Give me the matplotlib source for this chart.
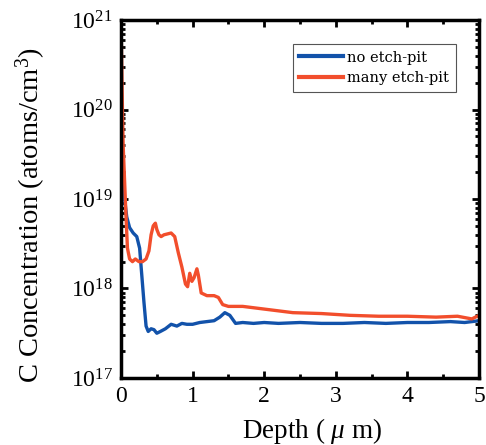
import matplotlib
matplotlib.use("Agg")
import matplotlib.pyplot as plt
import numpy as np
from matplotlib.ticker import LogLocator, MultipleLocator, FixedLocator, NullFormatter

# Data (depth in um, log10 of concentration)
blue_depth = [0, 0.02, 0.05, 0.08, 0.12, 0.17, 0.22, 0.26, 0.29, 0.32, 0.35, 0.38, 0.42, 0.46, 0.5,
              0.55, 0.62, 0.7, 0.78, 0.85, 0.92, 1.0, 1.1, 1.2, 1.3, 1.38, 1.45, 1.52, 1.6, 1.7, 1.85,
              2.0, 2.2, 2.5, 2.8, 3.1, 3.4, 3.7, 4.0, 4.3, 4.6, 4.8, 5.0]
blue_log = [19.36, 19.2, 19.0, 18.8, 18.68, 18.62, 18.58, 18.45, 18.15, 17.85, 17.58, 17.52, 17.55,
            17.54, 17.5, 17.52, 17.55, 17.6, 17.58, 17.61, 17.6, 17.6, 17.62, 17.63, 17.64, 17.68,
            17.73, 17.7, 17.61, 17.62, 17.61, 17.62, 17.61, 17.62, 17.61, 17.61, 17.62, 17.61,
            17.62, 17.62, 17.63, 17.62, 17.64]

red_depth = [0, 0.01, 0.02, 0.03, 0.05, 0.07, 0.09, 0.12, 0.16, 0.2, 0.25, 0.3, 0.35, 0.39, 0.42,
             0.45, 0.48, 0.5, 0.53, 0.56, 0.6, 0.65, 0.7, 0.75, 0.8, 0.85, 0.9, 0.93, 0.96, 0.99,
             1.02, 1.06, 1.08, 1.12, 1.2, 1.3, 1.36, 1.42, 1.5, 1.7, 1.9, 2.1, 2.4, 2.8, 3.2, 3.6,
             4.0, 4.4, 4.7, 4.9, 5.0]
red_log = [21.0, 20.5, 20.0, 19.6, 19.2, 18.8, 18.45, 18.33, 18.3, 18.33, 18.3, 18.3, 18.33, 18.42,
           18.6, 18.7, 18.73, 18.66, 18.6, 18.58, 18.6, 18.61, 18.62, 18.58, 18.4, 18.24, 18.05,
           18.02, 18.17, 18.08, 18.12, 18.22, 18.15, 17.95, 17.92, 17.92, 17.9, 17.82, 17.8, 17.8,
           17.78, 17.76, 17.73, 17.72, 17.7, 17.69, 17.69, 17.68, 17.69, 17.66, 17.7]

series_labels = ["no etch-pit", "many etch-pit"]
x_ticks = [0, 1, 2, 3, 4, 5]

plt.rcParams['font.family'] = ['Liberation Serif', 'DejaVu Serif']
plt.rcParams['mathtext.fontset'] = 'custom'
plt.rcParams['mathtext.rm'] = 'Liberation Serif'
plt.rcParams['mathtext.it'] = 'Liberation Serif:italic'

fig = plt.figure(figsize=(4.86, 4.45), dpi=100)
ax = fig.add_axes([0.249, 0.1506, 0.7366, 0.8044])

blue_c = '#1252AA'
red_c = '#F24E2C'
ax.plot(blue_depth, 10 ** np.array(blue_log), color=blue_c, lw=2.4, label=series_labels[0])
ax.plot(red_depth, 10 ** np.array(red_log), color=red_c, lw=2.4, label=series_labels[1])

ax.set_yscale('log')
ax.set_xlim(0, 5)
ax.set_ylim(1e17, 1e21)
ax.xaxis.set_major_locator(FixedLocator(x_ticks))
ax.xaxis.set_minor_locator(MultipleLocator(0.5))
ax.yaxis.set_major_locator(LogLocator(base=10, numticks=10))
ax.yaxis.set_minor_locator(LogLocator(base=10, subs=np.arange(2, 10), numticks=20))
ax.yaxis.set_minor_formatter(NullFormatter())
ax.set_xticklabels([str(t) for t in x_ticks])

for s in ax.spines.values():
    s.set_linewidth(2.5)
ax.tick_params(which='both', direction='in', top=True, right=True, width=2)
ax.tick_params(which='major', length=5, labelsize=17, pad=6)
ax.tick_params(which='minor', length=3)

ax.set_xlabel('Depth ( $\\mu$ m)', fontsize=19.5)
ax.set_ylabel('C Concentration (atoms/cm$^3$)', fontsize=20.5)
ax.xaxis.set_label_coords(0.534, -0.105)
ax.yaxis.set_label_coords(-0.204, 0.455)

leg = ax.legend(loc='upper right', bbox_to_anchor=(0.935, 0.933),
                prop={'family': 'DejaVu Serif', 'size': 10.5}, frameon=True,
                fancybox=False, edgecolor='#555555', framealpha=1, handlelength=3.0,
                borderpad=0.45, labelspacing=0.45, handletextpad=0.3, borderaxespad=0)
leg.get_frame().set_linewidth(0.8)
for h in leg.get_lines():
    h.set_linewidth(3)

fig.savefig('out.png', dpi=100)
